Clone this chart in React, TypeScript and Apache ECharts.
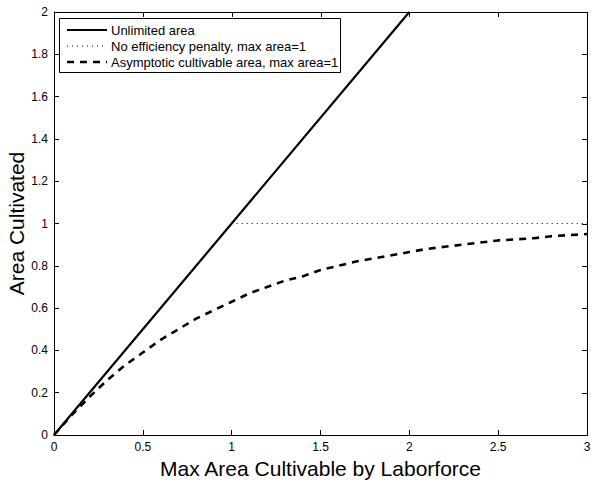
import React, { useEffect, useRef } from "react";
import * as echarts from "echarts";

const unlimitedX = [0, 2];
const unlimitedY = [0, 2];
const noPenaltyX = [1, 3];
const noPenaltyY = [1, 1];
const asymX = [0, 0.1, 0.2, 0.3, 0.4, 0.5, 0.6, 0.7, 0.8, 0.9, 1.0, 1.1, 1.2, 1.3, 1.4, 1.5, 1.6, 1.7, 1.8, 1.9, 2.0, 2.1, 2.2, 2.3, 2.4, 2.5, 2.6, 2.7, 2.8, 2.9, 3.0];
const asymY = [0, 0.095, 0.18, 0.26, 0.33, 0.39, 0.45, 0.5, 0.55, 0.59, 0.63, 0.67, 0.7, 0.73, 0.75, 0.78, 0.8, 0.82, 0.835, 0.85, 0.865, 0.88, 0.89, 0.9, 0.91, 0.92, 0.925, 0.93, 0.94, 0.945, 0.95];
const xTicks = [0, 0.5, 1, 1.5, 2, 2.5, 3];
const yTicks = [0, 0.2, 0.4, 0.6, 0.8, 1, 1.2, 1.4, 1.6, 1.8, 2];
const legendNames = ["Unlimited area", "No efficiency penalty, max area=1", "Asymptotic cultivable area, max area=1"];
const xTitle = "Max Area Cultivable by Laborforce";
const yTitle = "Area Cultivated";

const zip = (xs: number[], ys: number[]) => xs.map((x, i) => [x, ys[i]]);

const FONT = "Liberation Sans";

export default function App() {
  const ref = useRef<HTMLDivElement>(null);
  useEffect(() => {
    document.body.style.margin = "0";
    const chart = echarts.init(ref.current!, null, { renderer: "svg" });
    const L = 54, R = 587, T = 12, B = 435;
    const xMin = xTicks[0], xMax = xTicks[xTicks.length - 1];
    const yMin = yTicks[0], yMax = yTicks[yTicks.length - 1];
    const sx = (v: number) => L + ((v - xMin) / (xMax - xMin)) * (R - L);
    const sy = (v: number) => B - ((v - yMin) / (yMax - yMin)) * (B - T);
    const h = (v: number) => Math.round(v) + 0.5;
    const mkAxis = () => ({
      type: "value" as const,
      axisLine: { show: true, onZero: false, lineStyle: { color: "#000", width: 1 } },
      axisTick: { show: true, inside: true, length: 5, lineStyle: { color: "#000" } },
      splitLine: { show: false },
    });
    const labelStyle = { color: "#000", fontSize: 12, fontFamily: FONT };
    const lineStyles = [
      { color: "#000", width: 2.2, type: "solid" as any },
      { color: "#000", width: 1.2, type: [1, 4] as any },
      { color: "#000", width: 2.6, type: [7, 6] as any },
    ];
    const graphics: any[] = [];
    // frame around the plot area with inward ticks on top and right edges
    graphics.push({ type: "rect", shape: { x: h(L), y: h(T), width: R - L, height: B - T }, style: { stroke: "#000", lineWidth: 1, fill: "rgba(0,0,0,0)" }, z: 200, silent: true });
    xTicks.forEach((v) => {
      graphics.push({ type: "rect", shape: { x: Math.round(sx(v)), y: T, width: 1, height: 5 }, style: { fill: "#000" }, z: 200, silent: true });
    });
    yTicks.forEach((v) => {
      graphics.push({ type: "rect", shape: { x: R - 5, y: Math.round(sy(v)), width: 5, height: 1 }, style: { fill: "#000" }, z: 200, silent: true });
    });
    // y axis title
    graphics.push({
      type: "text",
      x: 16,
      y: (T + B) / 2,
      rotation: Math.PI / 2,
      style: { text: yTitle, fill: "#000", fontSize: 21, fontFamily: FONT, align: "center", verticalAlign: "middle" },
      z: 50,
    });
    // legend
    const legendRows = [30, 46, 62];
    graphics.push({ type: "rect", shape: { x: 59.5, y: 18.5, width: 281, height: 54 }, style: { fill: "#fff", stroke: "#000", lineWidth: 1 }, z: 100 });
    legendNames.forEach((name, i) => {
      graphics.push({
        type: "line",
        shape: { x1: 67, y1: legendRows[i], x2: 107, y2: legendRows[i] },
        style: { stroke: "#000", lineWidth: lineStyles[i].width, lineDash: Array.isArray(lineStyles[i].type) ? lineStyles[i].type : null },
        z: 101,
      });
      graphics.push({
        type: "text",
        x: 111,
        y: legendRows[i],
        style: { text: name, fill: "#000", fontSize: 13, fontFamily: FONT, verticalAlign: "middle", align: "left" },
        z: 101,
      });
    });
    chart.setOption({
      animation: false,
      backgroundColor: "#fff",
      grid: { left: L, right: 601 - R, top: T, bottom: 483 - B, containLabel: false, outerBoundsMode: "none" },
      xAxis: {
        ...mkAxis(),
        min: xMin, max: xMax, interval: 0.5,
        position: "bottom",
        axisLabel: { ...labelStyle, margin: 6 },
        name: xTitle,
        nameLocation: "middle",
        nameGap: 20,
        nameTextStyle: { color: "#000", fontSize: 21, fontFamily: FONT },
      },
      yAxis: {
        ...mkAxis(),
        min: yMin, max: yMax, interval: 0.2,
        position: "left",
        axisLabel: { ...labelStyle, margin: 6 },
      },
      series: [
        { name: legendNames[0], type: "line", data: zip(unlimitedX, unlimitedY), showSymbol: false, symbol: "none", lineStyle: lineStyles[0], clip: true },
        { name: legendNames[1], type: "line", data: zip(noPenaltyX, noPenaltyY), showSymbol: false, symbol: "none", lineStyle: lineStyles[1], clip: true },
        { name: legendNames[2], type: "line", data: zip(asymX, asymY), showSymbol: false, symbol: "none", smooth: false, lineStyle: lineStyles[2], clip: true },
      ],
      graphic: graphics,
    });
    return () => chart.dispose();
  }, []);
  return <div ref={ref} style={{ width: 601, height: 483 }} />;
}
